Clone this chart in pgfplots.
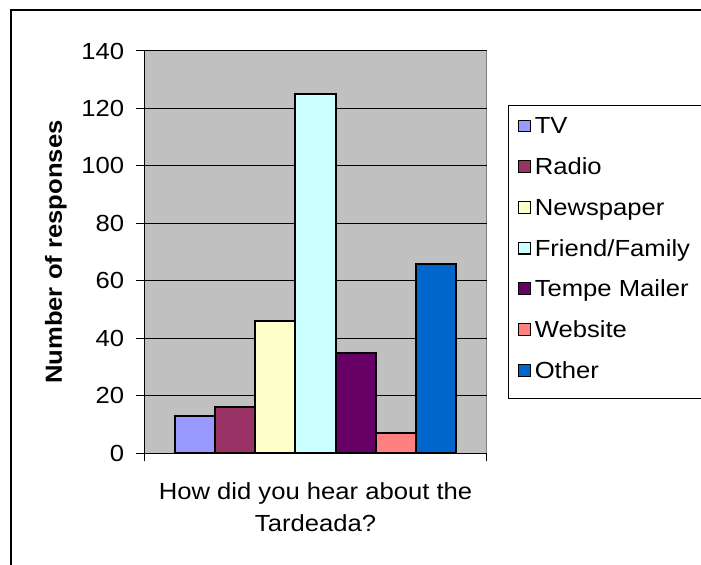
\documentclass[border=0pt]{standalone}
\usepackage{fontspec}
\setmainfont{Liberation Sans}[FakeStretch=1.1]
\usepackage{pgfplots}
\pgfplotsset{compat=1.18}
\definecolor{cTV}{HTML}{9999FF}
\definecolor{cRadio}{HTML}{993366}
\definecolor{cNews}{HTML}{FFFFCC}
\definecolor{cFriend}{HTML}{CCFFFF}
\definecolor{cTempe}{HTML}{660066}
\definecolor{cWeb}{HTML}{FF8080}
\definecolor{cOther}{HTML}{0066CC}
\definecolor{plotbg}{HTML}{C0C0C0}
\definecolor{plotborder}{HTML}{808080}
\newcommand\chartfont{\fontsize{23.3bp}{32bp}\selectfont}
\pgfplotsset{
  mybar/.style={ybar, bar width=1, bar shift=0pt, draw=black, line width=2bp, fill=#1,
    legend image code/.code={\draw[fill=#1, draw=black, line width=1.1bp] (0bp,2bp) rectangle (12.5bp,13.8bp);}},
}
\begin{document}
\begin{tikzpicture}
\useasboundingbox (0bp,0bp) rectangle (701bp,565bp);
\draw[line width=2bp] (11bp,-5bp) -- (11bp,555bp) -- (712bp,555bp);
\begin{axis}[
  at={(144.3bp,111.7bp)}, anchor=south west,
  width=342.4bp, height=402.3bp, scale only axis,
  xmin=-1.25, xmax=7.25, ymin=0, ymax=140,
  xtick={-1.25,7.25}, xticklabels={},
  ytick={0,20,...,140},
  axis x line*=bottom, axis y line*=left,
  axis line style={-, black, line width=1.2bp},
  axis background/.style={fill=plotbg, draw=plotborder, line width=1bp},
  tick align=outside, major tick length=8bp,
  tick style={black, line width=1bp},
  ymajorgrids, grid style={black, line width=1bp},
  /pgf/number format/assume math mode=true,
  yticklabel style={font=\chartfont, inner sep=0pt, xshift=-12bp},
  ylabel={Number of responses},
  ylabel style={font=\chartfont\bfseries, at={(axis description cs:-0.258,0.5)}, anchor=center, inner sep=0pt},
  xlabel={How did you hear about the\\Tardeada?},
  xlabel style={font=\chartfont, align=center, at={(axis description cs:0.5,-0.0713)}, anchor=north, inner sep=0pt},
  legend style={name=legbox, at={(axis description cs:1.0622,0.8639)}, anchor=north west,
    draw=none, fill=white, font=\chartfont,
    inner xsep=9.5bp, inner ysep=13bp, row sep=18.7bp, column sep=3.5bp,
    cells={anchor=base west},
    nodes={inner sep=0pt, text height=15bp, text depth=7bp}},
]
\addplot[mybar=cTV] coordinates {(0,13)};
\addlegendentry{TV}
\addplot[mybar=cRadio] coordinates {(1,16)};
\addlegendentry{Radio}
\addplot[mybar=cNews] coordinates {(2,46)};
\addlegendentry{Newspaper}
\addplot[mybar=cFriend] coordinates {(3,125)};
\addlegendentry{Friend/Family}
\addplot[mybar=cTempe] coordinates {(4,35)};
\addlegendentry{Tempe Mailer}
\addplot[mybar=cWeb] coordinates {(5,7)};
\addlegendentry{Website}
\addplot[mybar=cOther] coordinates {(6,66)};
\addlegendentry{Other}
\end{axis}
\draw[line width=0.8bp] ([xshift=20bp]legbox.north east) -- (legbox.north west) -- (legbox.south west) -- ([xshift=20bp]legbox.south east);
\end{tikzpicture}
\end{document}
